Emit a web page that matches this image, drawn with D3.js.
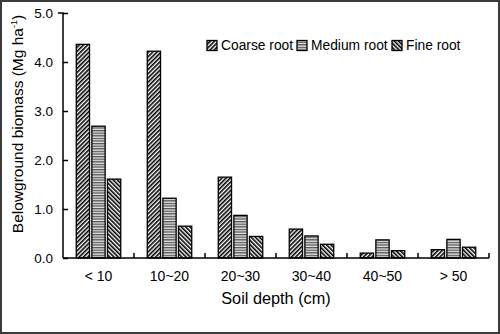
<!DOCTYPE html>
<html><head><meta charset="utf-8">
<script src="https://cdn.jsdelivr.net/npm/d3@7"></script>
<style>body{margin:0;background:#fff}svg{display:block}text{font-family:"Liberation Sans",Arial,sans-serif;fill:#000}</style>
</head><body>
<script>
const categories = ["< 10","10~20","20~30","30~40","40~50","> 50"];
const seriesNames = ["Coarse root","Medium root","Fine root"];
const coarse = [4.36,4.22,1.65,0.59,0.10,0.17];
const medium = [2.69,1.22,0.87,0.45,0.37,0.38];
const fine = [1.61,0.65,0.44,0.28,0.15,0.22];
const yTicks = [0,1,2,3,4,5];

const W=500,H=334;
const svg=d3.select("body").append("svg").attr("width",W).attr("height",H);
const defs=svg.append("defs");
function diag(id,angle){
  const p=defs.append("pattern").attr("id",id).attr("patternUnits","userSpaceOnUse")
    .attr("width",3).attr("height",3).attr("patternTransform",`rotate(${angle})`);
  p.append("rect").attr("width",3).attr("height",3).attr("fill","#fff");
  p.append("rect").attr("width",1.6).attr("height",3).attr("fill","#000");
}
diag("pc",45); diag("pf",-45);
const ph=defs.append("pattern").attr("id","pm").attr("patternUnits","userSpaceOnUse").attr("width",3).attr("height",2.6);
ph.append("rect").attr("width",3).attr("height",2.6).attr("fill","#e4e4e4");
ph.append("rect").attr("width",3).attr("height",1.3).attr("fill","#555");
const fills=["url(#pc)","url(#pm)","url(#pf)"];

svg.append("rect").attr("x",1).attr("y",1).attr("width",W-2).attr("height",H-2)
  .attr("fill","#fff").attr("stroke","#3a3a3a").attr("stroke-width",2);

const m={l:63,r:489,t:13,b:258};
const x=d3.scaleBand().domain(categories).range([m.l,m.r]).paddingInner(0).paddingOuter(0);
const xs=d3.scaleBand().domain(seriesNames).range([0,x.bandwidth()]).paddingInner(0.15).paddingOuter(0.85);
const y=d3.scaleLinear().domain([0,5]).range([m.b,m.t]);

const data=[coarse,medium,fine];
const g=svg.append("g");
seriesNames.forEach((s,si)=>{
  g.selectAll(null).data(categories).enter().append("rect")
    .attr("x",c=>x(c)+xs(s)).attr("width",xs.bandwidth())
    .attr("y",(c,i)=>y(data[si][i])).attr("height",(c,i)=>m.b-y(data[si][i]))
    .attr("fill",fills[si]).attr("stroke","#000").attr("stroke-width",1.3);
});

const ya=svg.append("g").attr("transform",`translate(${m.l},0)`)
  .call(d3.axisLeft(y).tickValues(yTicks).tickSize(-5).tickPadding(15).tickFormat(d3.format(".1f")));
ya.select(".domain").attr("stroke","#000").attr("stroke-width",1.5).attr("d",`M-5,${m.t}H0V${m.b}`);
ya.selectAll(".tick line").attr("stroke","#000").attr("stroke-width",1.5);
ya.selectAll(".tick text").attr("font-size",13.5).attr("font-family","Liberation Sans, Arial, sans-serif").attr("x",-10).attr("fill","#111");
ya.selectAll(".tick").filter(d=>d===5).select("line").attr("x2",5);

const xa=svg.append("g").attr("transform",`translate(0,${m.b})`);
xa.append("line").attr("x1",m.l).attr("x2",m.r).attr("stroke","#000").attr("stroke-width",1.5);
const bounds=categories.map(c=>x(c)+x.bandwidth());
xa.selectAll(".tk").data(bounds).enter().append("line")
  .attr("x1",d=>d).attr("x2",d=>d).attr("y1",0).attr("y2",-5).attr("stroke","#000").attr("stroke-width",1.5);
xa.selectAll(".lb").data(categories).enter().append("text")
  .attr("x",c=>x(c)+x.bandwidth()/2).attr("y",23).attr("text-anchor","middle")
  .attr("font-size",14).attr("fill","#111").text(c=>c);

svg.append("text").attr("x",276).attr("y",303.5).attr("text-anchor","middle").attr("font-size",16.3).text("Soil depth (cm)");
const yt=svg.append("text").attr("transform","translate(23,124) rotate(-90)").attr("text-anchor","middle").attr("font-size",15.5);
yt.append("tspan").text("Belowground biomass (Mg ha");
yt.append("tspan").attr("font-size",9).attr("dy",-6).text("-1");
yt.append("tspan").attr("dy",6).text(")");

const legX=[207,297,392];
const lg=svg.append("g");
seriesNames.forEach((s,i)=>{
  lg.append("rect").attr("x",legX[i]).attr("y",40.5).attr("width",10).attr("height",10)
    .attr("fill",fills[i]).attr("stroke","#000").attr("stroke-width",1.3);
  lg.append("text").attr("x",legX[i]+14).attr("y",50).attr("font-size",13.8).text(s);
});
</script>
</body></html>
